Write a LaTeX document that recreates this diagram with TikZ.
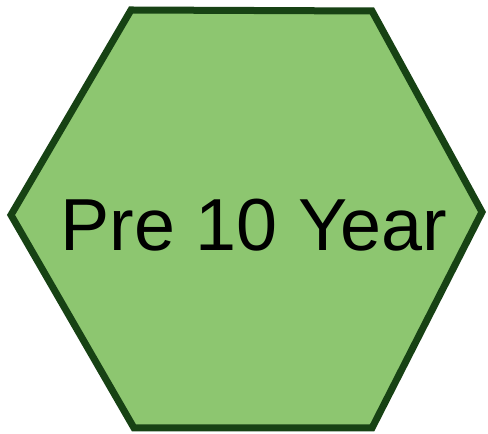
\documentclass[tikz,border=0pt]{standalone}
\usepackage{fontspec}
\setmainfont{Liberation Sans}
\definecolor{hexfill}{HTML}{8DC670}
\definecolor{hexedge}{HTML}{174214}
\begin{document}
\begin{tikzpicture}[x=1bp,y=1bp,
  hexshape/.style={fill=hexfill,draw=hexedge,line width=7bp,line join=miter},
  hexlabel/.style={font=\fontsize{74}{80}\selectfont,text=black,inner sep=0pt,anchor=base}]
\useasboundingbox (0,0) rectangle (488,434);
\coordinate (tl) at (131,424);
\coordinate (tr) at (372,423);
\coordinate (r) at (482,222);
\coordinate (br) at (372,6);
\coordinate (bl) at (134,6);
\coordinate (l) at (11,219);
\draw[hexshape] (tl) -- (tr) -- (r) -- (br) -- (bl) -- (l) -- cycle;
\node[hexlabel] (lbl) at (254,183) {Pre 10 Year};
\end{tikzpicture}
\end{document}
